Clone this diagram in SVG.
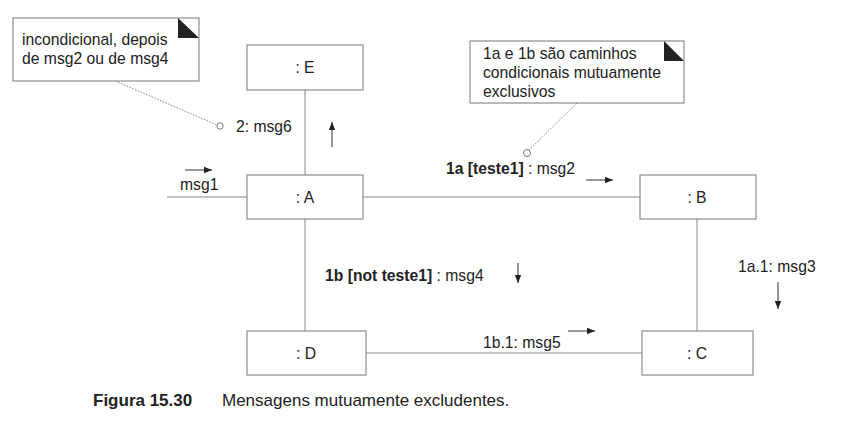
<svg xmlns="http://www.w3.org/2000/svg" width="846" height="430" viewBox="0 0 846 430">
<defs>
<marker id="ah" viewBox="0 0 10 10" refX="10" refY="5" markerWidth="8" markerHeight="8" markerUnits="userSpaceOnUse" orient="auto"><path d="M0,1 L10,5 L0,9 z" fill="#222"/></marker>
</defs>
<style>
text{font-family:"Liberation Sans",Arial,sans-serif;font-size:15.7px;fill:#222}
.b{font-weight:bold}
.cap{font-size:17px}
.box{fill:#fff;stroke:#777;stroke-width:1}
.ln{stroke:#888;stroke-width:1;fill:none}
.dot{stroke:#888;stroke-width:1;stroke-dasharray:1.5 1.5;fill:none}
.arr{stroke:#333;stroke-width:1;fill:none;marker-end:url(#ah)}
.mid{text-anchor:middle}
</style>
<rect width="846" height="430" fill="#fff"/>
<g id="connectors">
<line class="ln" x1="305" y1="89" x2="305" y2="175"/>
<line class="ln" x1="167" y1="197" x2="247" y2="197"/>
<line class="ln" x1="363" y1="197" x2="640" y2="197"/>
<line class="ln" x1="305" y1="219" x2="305" y2="331"/>
<line class="ln" x1="697" y1="219" x2="697" y2="331"/>
<line class="ln" x1="366" y1="353" x2="642" y2="353"/>
<line class="dot" x1="113" y1="80" x2="217" y2="125"/>
<circle cx="220" cy="126" r="3.2" fill="#fff" stroke="#777"/>
<line class="dot" x1="577" y1="103" x2="529" y2="150"/>
<circle cx="527" cy="153" r="3.5" fill="#fff" stroke="#777"/>
<line class="arr" x1="332" y1="147" x2="332" y2="122"/>
<line class="arr" x1="185" y1="170" x2="212" y2="170"/>
<line class="arr" x1="586" y1="180" x2="613" y2="180"/>
<line class="arr" x1="518" y1="263" x2="518" y2="283"/>
<line class="arr" x1="568" y1="331" x2="595" y2="331"/>
<line class="arr" x1="778" y1="282" x2="778" y2="309"/>
</g>
<g id="note1">
<rect class="box" x="13" y="18" width="186" height="63"/>
<path d="M178,18 L178,38 L199,38 z" fill="#222"/>
<text x="22" y="45">incondicional, depois</text>
<text x="22" y="64">de msg2 ou de msg4</text>
</g>
<g id="note2">
<rect class="box" x="470" y="41" width="214" height="62"/>
<path d="M664,41 L664,61 L684,61 z" fill="#222"/>
<text x="483" y="59">1a e 1b são caminhos</text>
<text x="483" y="78">condicionais mutuamente</text>
<text x="483" y="97">exclusivos</text>
</g>
<g id="E"><rect class="box" x="247" y="45" width="116" height="45"/><text class="mid" x="305" y="73">: E</text></g>
<g id="A"><rect class="box" x="247" y="175" width="116" height="44"/><text class="mid" x="305" y="203">: A</text></g>
<g id="B"><rect class="box" x="640" y="175" width="116" height="44"/><text class="mid" x="697" y="203">: B</text></g>
<g id="D"><rect class="box" x="247" y="331" width="119" height="44"/><text class="mid" x="306" y="359">: D</text></g>
<g id="C"><rect class="box" x="642" y="331" width="111" height="44"/><text class="mid" x="697" y="359">: C</text></g>
<g id="labels">
<text x="236" y="132">2: msg6</text>
<text x="180" y="190">msg1</text>
<text x="446" y="174"><tspan class="b">1a [teste1]</tspan> : msg2</text>
<text x="325" y="281"><tspan class="b">1b [not teste1]</tspan> : msg4</text>
<text x="483" y="348">1b.1: msg5</text>
<text x="738" y="272">1a.1: msg3</text>
</g>
<g id="caption">
<text class="cap b" x="93" y="406">Figura 15.30</text>
<text class="cap" x="222" y="406">Mensagens mutuamente excludentes.</text>
</g>
</svg>
